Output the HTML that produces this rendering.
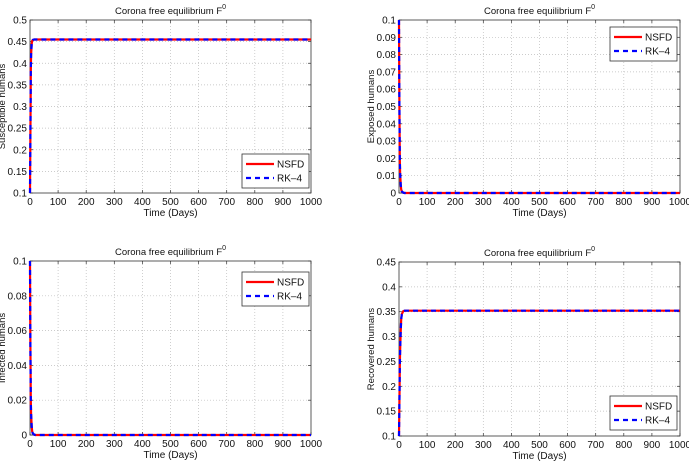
<!DOCTYPE html>
<html><head><meta charset="utf-8"><style>
html,body{margin:0;padding:0;background:#fff;}
svg{display:block;font-family:"Liberation Sans",sans-serif;}
</style></head><body>
<svg id="fig" width="689" height="463"></svg>
<script>
const times = [0, 1, 2, 3, 4, 6, 8, 10, 15, 20, 1000];
const susceptible = [0.1, 0.2, 0.3, 0.38, 0.42, 0.445, 0.452, 0.454, 0.455, 0.455, 0.455];
const exposed = [0.1, 0.06, 0.035, 0.02, 0.012, 0.005, 0.002, 0.001, 0.0002, 0, 0];
const infected = [0.1, 0.06, 0.035, 0.02, 0.012, 0.005, 0.002, 0.001, 0.0002, 0, 0];
const recovered = [0.1, 0.15, 0.2, 0.24, 0.27, 0.31, 0.335, 0.345, 0.351, 0.352, 0.352];
const xTicks = [0,100,200,300,400,500,600,700,800,900,1000];
const yTicksS = [0.1,0.15,0.2,0.25,0.3,0.35,0.4,0.45,0.5];
const yTicksE = [0,0.01,0.02,0.03,0.04,0.05,0.06,0.07,0.08,0.09,0.1];
const yTicksI = [0,0.02,0.04,0.06,0.08,0.1];
const yTicksR = [0.1,0.15,0.2,0.25,0.3,0.35,0.4,0.45];

const NS='http://www.w3.org/2000/svg';
const svg=document.getElementById('fig');
function mk(tag,attrs,parent){const e=document.createElementNS(NS,tag);for(const k in attrs)e.setAttribute(k,attrs[k]);(parent||svg).appendChild(e);return e;}

function panel(id,L,T,R,B,yTicks,ymin,ymax,vals,ylabel,legend){
  const g=mk('g',{});
  
  
  const sx=v=>L+(v-0)/(1000-0)*(R-L);
  const sy=v=>B-(v-ymin)/(ymax-ymin)*(B-T);
  mk('rect',{x:L,y:T,width:R-L,height:B-T,fill:'#fff'},g);
  xTicks.forEach(t=>{
    const x=sx(t);
    if(t>0&&t<1000){const l=mk('line',{x1:x,y1:T,x2:x,y2:B,stroke:'#bbb','stroke-width':0.7,'stroke-dasharray':'1,2'},g);
    }
    mk('line',{x1:x,y1:B,x2:x,y2:B-3,stroke:'#333','stroke-width':0.7},g);
    mk('line',{x1:x,y1:T,x2:x,y2:T+3,stroke:'#333','stroke-width':0.7},g);
    const tx=mk('text',{x:x,y:B+12,'font-size':10,'text-anchor':'middle',fill:'#111'},g);tx.textContent=t;
    
  });
  yTicks.forEach(t=>{
    const y=sy(t);
    if(Math.abs(t-ymin)>1e-9&&Math.abs(t-ymax)>1e-9){const l=mk('line',{x1:L,y1:y,x2:R,y2:y,stroke:'#bbb','stroke-width':0.7,'stroke-dasharray':'1,2'},g);
    }
    mk('line',{x1:L,y1:y,x2:L+3,y2:y,stroke:'#333','stroke-width':0.7},g);
    mk('line',{x1:R,y1:y,x2:R-3,y2:y,stroke:'#333','stroke-width':0.7},g);
    const tx=mk('text',{x:L-3,y:y+3.5,'font-size':10,'text-anchor':'end',fill:'#111'},g);tx.textContent=+t.toFixed(2);
    
  });
  mk('rect',{x:L,y:T,width:R-L,height:B-T,fill:'none',stroke:'#333','stroke-width':0.8},g);
  const pts=times.map((t,i)=>sx(t).toFixed(1)+','+sy(vals[i]).toFixed(1)).join(' ');
  const l1=mk('polyline',{points:pts,fill:'none',stroke:'#ff0000','stroke-width':2.2},g);
  
  const l2=mk('polyline',{points:pts,fill:'none',stroke:'#0000ff','stroke-width':2.2,'stroke-dasharray':'5,4'},g);
  
  const ti=mk('text',{x:(L+R)/2,y:T-6,'font-size':9.5,'text-anchor':'middle',fill:'#111'},g);
  ti.innerHTML='Corona free equilibrium F<tspan dy="-5" font-size="7">0</tspan>';
  
  const xl=mk('text',{x:(L+R)/2,y:B+23,'font-size':10,'text-anchor':'middle',fill:'#111'},g);xl.textContent='Time (Days)';
  
  const yx=L-25, yy=(T+B)/2;
  const yl=mk('text',{x:yx,y:yy,'font-size':9.5,'text-anchor':'middle',fill:'#111',transform:`rotate(-90 ${yx} ${yy})`},g);yl.textContent=ylabel;
  
  const lg=mk('g',{},g);
  
  const [lx,ly,lw,lh]=legend;
  mk('rect',{x:lx,y:ly,width:lw,height:lh,fill:'#fff',stroke:'#333','stroke-width':0.8},lg);
  mk('line',{x1:lx+4,y1:ly+10,x2:lx+32,y2:ly+10,stroke:'#ff0000','stroke-width':2.2},lg);
  mk('line',{x1:lx+4,y1:ly+24,x2:lx+32,y2:ly+24,stroke:'#0000ff','stroke-width':2.2,'stroke-dasharray':'5,4'},lg);
  const a=mk('text',{x:lx+35,y:ly+13.5,'font-size':10,fill:'#111'},lg);a.textContent='NSFD';
  
  const b=mk('text',{x:lx+35,y:ly+27.5,'font-size':10,fill:'#111'},lg);b.textContent='RK\u20134';
  
}
panel('susceptible',30,20,311,193,yTicksS,0.1,0.5,susceptible,'Susceptible humans',[242,154,67,34]);
panel('exposed',399,20,680,193,yTicksE,0,0.1,exposed,'Exposed humans',[610,27,67,34]);
panel('infected',30,261,311,435,yTicksI,0,0.1,infected,'Infected humans',[242,272,67,34]);
panel('recovered',399,262,680,436,yTicksR,0.1,0.45,recovered,'Recovered humans',[610,396,67,34]);
</script>
</body></html>
